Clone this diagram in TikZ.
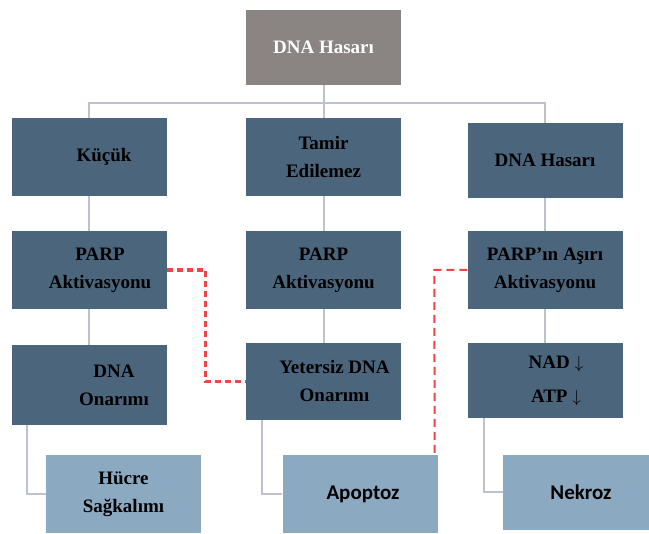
\documentclass[tikz,border=0pt]{standalone}
\usepackage{fontspec}
\setmainfont{Liberation Serif}
\newfontfamily\calibrifont{Carlito}

\definecolor{topgray}{HTML}{8A8482}
\definecolor{boxblue}{HTML}{4A657C}
\definecolor{boxlight}{HTML}{8BA9C0}
\definecolor{linegray}{HTML}{BCC3CC}
\definecolor{linkred}{HTML}{F04545}

\tikzset{
  darkbox/.style={fill=boxblue, minimum width=155pt, minimum height=78pt,
    inner sep=0pt, align=center, font=\bfseries\fontsize{19}{28}\selectfont},
  lightbox/.style={darkbox, fill=boxlight},
  sansbox/.style={lightbox, font=\calibrifont\bfseries\fontsize{21}{26}\selectfont},
  conn/.style={draw=linegray, line width=2pt},
  redlink/.style={draw=linkred, line width=3.5pt, dash pattern=on 6pt off 4pt},
  redthin/.style={draw=linkred, line width=2pt, dash pattern=on 8pt off 5pt}
}

\begin{document}
\begin{tikzpicture}[x=1pt, y=-1pt]
    \useasboundingbox (0,0) rectangle (649,534);
    % Top
    \node[darkbox, fill=topgray, text=white, minimum height=75pt] (hasar) at (323.5,47.5) {DNA Hasarı};

    % First row
    \node[darkbox] (kucuk) at (89,157) {\hspace*{30pt}Küçük};
    \node[darkbox] (tamir) at (323.5,157) {Tamir\\Edilemez};
    \node[darkbox, minimum height=75pt] (hasarb) at (545,160.5) {DNA Hasarı};

    % Second row
    \node[darkbox] (parpa) at (89,270) {\hspace*{22pt}PARP\\\hspace*{22pt}Aktivasyonu};
    \node[darkbox] (parpb) at (323.5,270) {PARP\\Aktivasyonu};
    \node[darkbox] (parpc) at (545,270) {PARP’ın Aşırı\\Aktivasyonu};

    % Third row
    \node[darkbox, minimum height=80pt] (onarim) at (89,385) {\hspace*{50pt}DNA\\\hspace*{50pt}Onarımı};
    \node[darkbox, minimum height=77pt] (yetersiz) at (323.5,381.5) {\hspace*{22pt}Yetersiz DNA\\\hspace*{22pt}Onarımı};
    \node[darkbox, minimum height=75pt, font=\bfseries\fontsize{19}{34}\selectfont] (nadatp) at (545,380.5) {\hspace*{22pt}NAD $\downarrow$\\\hspace*{22pt}ATP $\downarrow$};

    % Bottom row
    \node[lightbox] (hucre) at (123.5,494) {Hücre\\Sağkalımı};
    \node[sansbox] (apoptoz) at (360,494) {\hspace*{6pt}Apoptoz};
    \node[sansbox, minimum width=146pt, minimum height=75pt] (nekroz) at (576,492.5) {\hspace*{10pt}Nekroz};

    % Tree lines
    \coordinate (bus) at (323.5,103);
    \draw[conn] (hasar) -- (bus);
    \draw[conn] (bus) -| (kucuk);
    \draw[conn] (bus) -- (tamir);
    \draw[conn] (bus) -| (hasarb);
    \draw[conn] (kucuk) -- (parpa);
    \draw[conn] (parpa) -- (onarim);
    \draw[conn] (tamir) -- (parpb);
    \draw[conn] (parpb) -- (yetersiz);
    \draw[conn] (hasarb) -- (parpc);
    \draw[conn] (parpc) -- (nadatp);
    \draw[conn] ([xshift=16pt]onarim.south west) |- (hucre);
    \draw[conn] ([xshift=16pt]yetersiz.south west) |- (apoptoz);
    \draw[conn] ([xshift=17pt]nadatp.south west) |- (nekroz);

    % Red dashed links
    \draw[redlink] (parpa.east) -- ++(39,0) |- (yetersiz.west);
    \draw[redthin] (parpc.west) -- ++(-33,0) -- ([xshift=-3pt]apoptoz.north east);
\end{tikzpicture}
\end{document}
